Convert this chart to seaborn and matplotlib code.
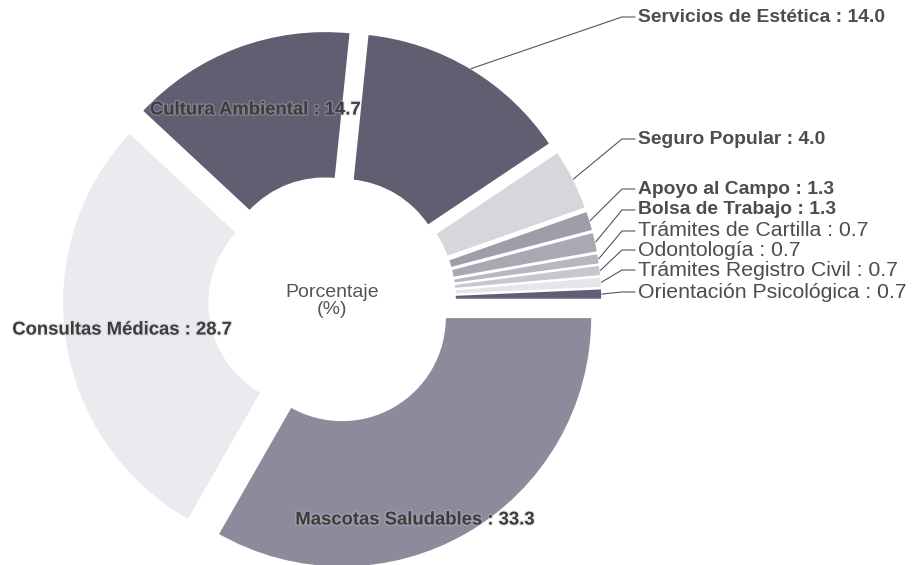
import numpy as np
import matplotlib
matplotlib.use("Agg")
import matplotlib.pyplot as plt
import matplotlib.patheffects as pe
import seaborn as sns

# Datos (orden antihorario desde las 3 en punto)
categorias = ['Orientación Psicológica', 'Trámites Registro Civil', 'Odontología',
              'Trámites de Cartilla', 'Bolsa de Trabajo', 'Apoyo al Campo',
              'Seguro Popular', 'Servicios de Estética', 'Cultura Ambiental',
              'Consultas Médicas', 'Mascotas Saludables']
porcentajes = [0.7, 0.7, 0.7, 0.7, 1.3, 1.3, 4.0, 14.0, 14.7, 28.7, 33.3]
colores = ['#605e76', '#e5e5ea', '#c8c7ce', '#b8b7c0', '#aaa9b3', '#9e9da8',
           '#d6d6dd', '#625e71', '#625e71', '#eaeaef', '#8d8a9b']

# Etiquetas internas / externas
internas = ['Cultura Ambiental', 'Consultas Médicas', 'Mascotas Saludables']
pos_internas = {'Cultura Ambiental': (255, 110), 'Consultas Médicas': (122, 330),
                'Mascotas Saludables': (415, 520)}
y_externas = {'Servicios de Estética': 17, 'Seguro Popular': 139, 'Apoyo al Campo': 189,
              'Bolsa de Trabajo': 210, 'Trámites de Cartilla': 231, 'Odontología': 250,
              'Trámites Registro Civil': 270, 'Orientación Psicológica': 292}
negritas = ['Servicios de Estética', 'Seguro Popular', 'Apoyo al Campo', 'Bolsa de Trabajo']

# Geometría en píxeles
W, H = 915, 565
CX, CY, R = 332, 300, 250
EXPLODE = 0.08


def px(x, y):
    return (x - CX) / R, (CY - y) / R


sns.set_theme(style="white")
plt.rcParams['font.family'] = ['Liberation Sans', 'DejaVu Sans']

fig = plt.figure(figsize=(W / 100, H / 100), dpi=100)
ax = fig.add_axes([0, 0, 1, 1])

wedges, _ = ax.pie(porcentajes, colors=colores, startangle=0, counterclock=True,
                   explode=[EXPLODE] * len(porcentajes), radius=1,
                   wedgeprops=dict(width=1 - 103 / R, edgecolor='white', linewidth=1.2))

ax.set_xlim(-CX / R, (W - CX) / R)
ax.set_ylim((CY - H) / R, CY / R)
ax.set_aspect('equal')
ax.axis('off')

color_txt = '#4d4d4d'
for w, cat, val in zip(wedges, categorias, porcentajes):
    etiqueta = f'{cat} : {val:.1f}'
    if cat in internas:
        x, y = px(*pos_internas[cat])
        ax.text(x, y, etiqueta, ha='center', va='center', fontsize=13.3,
                fontweight='bold', color='#3d3d3d',
                path_effects=[pe.withStroke(linewidth=2, foreground='#c9c9d0', alpha=0.3)])
        continue
    ang = np.deg2rad((w.theta1 + w.theta2) / 2)
    cxw, cyw = w.center
    x0, y0 = cxw + np.cos(ang), cyw + np.sin(ang)
    ye = y_externas[cat]
    x1, y1 = px(622, ye)
    x2, _ = px(635, ye)
    ax.plot([x0, x1, x2], [y0, y1, y1], color='#555555', lw=0.8)
    xt, _ = px(638, ye)
    negrita = cat in negritas
    ax.text(xt, y1, etiqueta, ha='left', va='center',
            fontsize=13.9 if negrita else 15.3,
            fontweight='bold' if negrita else 'normal', color=color_txt)

ax.text(0, px(0, 301)[1], 'Porcentaje\n(%)', ha='center', va='center',
        fontsize=14, color='#555555', linespacing=1.05)

fig.savefig('out.png', dpi=100, facecolor='white')
